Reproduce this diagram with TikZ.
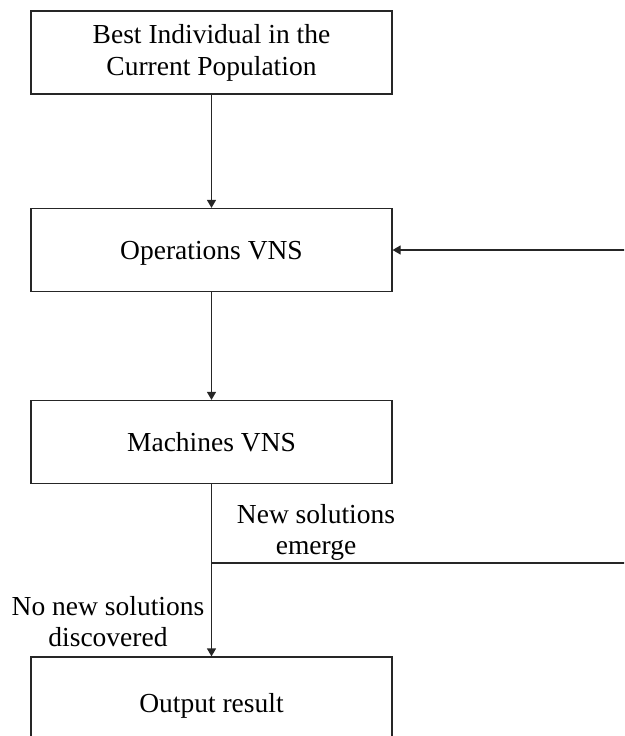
\documentclass[tikz,border=0pt]{standalone}
\usepackage{fontspec}
\setmainfont{Liberation Serif}
\usetikzlibrary{arrows.meta}
\begin{document}
\begin{tikzpicture}[x=1pt,y=1pt,
  stepbox/.style={draw=black!85,line width=1.2pt,minimum width=361pt,minimum height=83pt,inner sep=0pt,align=center,
    font=\fontsize{27.5}{32}\selectfont},
  onebox/.style={stepbox,text depth=0pt,text height=19pt},
  lbl/.style={align=center,inner sep=0pt,font=\fontsize{27.5}{31}\selectfont},
  conn/.style={draw=black!85,line width=1.2pt},
  arr/.style={conn,-{Triangle[length=8pt,width=9pt]}}]
\useasboundingbox (0,0) rectangle (624,-736);
\clip (0,0) rectangle (624,-736);
\node[stepbox] (best) at (211.5,-52.5) {Best Individual in the\\Current Population};
\node[onebox] (ops) at (211.5,-250) {Operations VNS};
\node[onebox] (mach) at (211.5,-442) {Machines VNS};
\node[onebox,minimum height=92pt] (out) at (211.5,-703) {Output result};
\coordinate (j) at (211.5,-563);
\coordinate (fbA) at (640,-563);
\coordinate (fbB) at (640,-250);
\draw[arr] (best) -- (ops);
\draw[arr] (ops) -- (mach);
\draw[arr] (mach) -- (out);
\draw[arr] (j) -- (fbA) -- (fbB) -- (ops.east);
\node[lbl] (newsol) at (316,-532) {New solutions\\emerge};
\node[lbl] (nonew) at (108,-622) {No new solutions\\discovered};
\end{tikzpicture}
\end{document}
